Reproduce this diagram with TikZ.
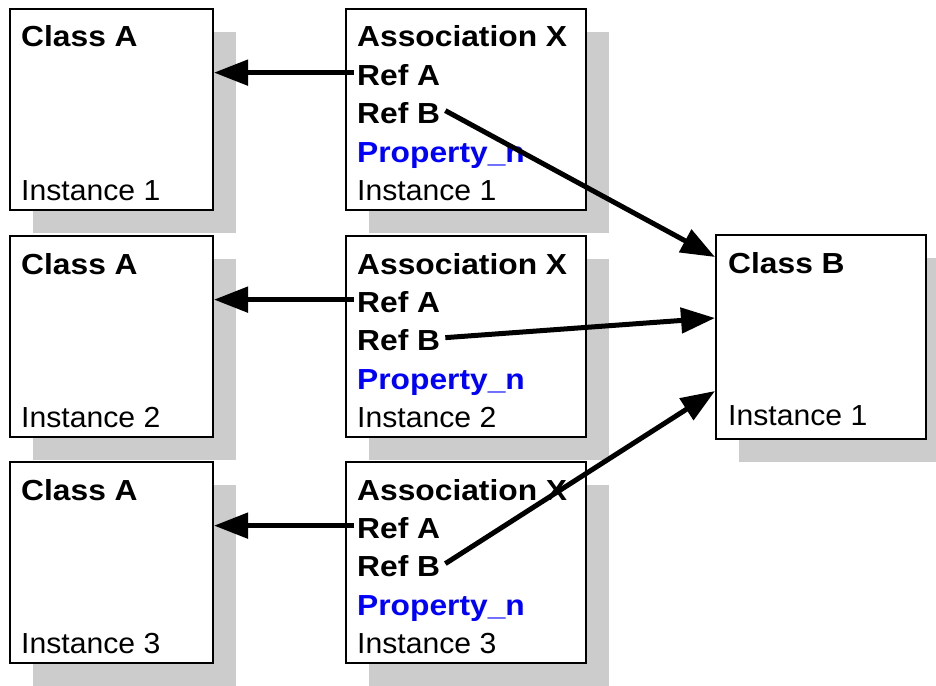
\documentclass[tikz,border=0pt]{standalone}
\usepackage{fontspec}
\setmainfont{Liberation Sans}[FakeStretch=1.04]
\newfontfamily\boldlbl{Liberation Sans}[FakeStretch=1.095, UprightFont=*-Bold]
\usetikzlibrary{arrows.meta,calc}
\definecolor{shadowgray}{HTML}{CCCCCC}
\definecolor{propblue}{HTML}{0000FF}
\tikzset{
  box/.style={draw=black, line width=2pt, fill=white, rectangle, inner sep=0pt, anchor=north west},
  shadowbox/.style={fill=shadowgray, draw=none, rectangle, inner sep=0pt, anchor=north west},
  lbl/.style={inner sep=0pt, anchor=base west, font=\fontsize{29}{34}\selectfont},
  bl/.style={lbl, font=\fontsize{29}{34}\selectfont\boldlbl},
  prop/.style={bl, text=propblue},
  refarrow/.style={line width=5pt, -{Triangle[length=34pt,width=25pt]}},
}
\begin{document}
\begin{tikzpicture}[x=1pt,y=-1pt]
\useasboundingbox (0,0) rectangle (936,685);
% shadows
\foreach \t/\n in {8/1,235/2,461/3}{
  \node[shadowbox, minimum width=203pt, minimum height=201pt] (shA\n) at (33,\t+24) {};
  \node[shadowbox, minimum width=240pt, minimum height=201pt] (shX\n) at (369,\t+24) {};
}
\node[shadowbox, minimum width=210pt, minimum height=204pt] (shB) at (739,258) {};
% boxes
\foreach \t/\n in {8/1,235/2,461/3}{
  \node[box, minimum width=203pt, minimum height=201pt] (classA\n) at (9,\t) {};
  \node[box, minimum width=240pt, minimum height=201pt] (assoc\n) at (345,\t) {};
  \node[bl] (titleA\n) at (21,\t+39) {Class A};
  \node[lbl] (instA\n) at (21,\t+192) {Instance \n};
  \node[bl] (titleX\n) at (357,\t+39) {Association X};
  \node[bl] (refA\n) at (357,\t+77) {Ref A};
  \node[bl] (refB\n) at (357,\t+115) {Ref B};
  \node[prop] (prop\n) at (357,\t+154) {Property\_n};
  \node[lbl] (instX\n) at (357,\t+192) {Instance \n};
}
\node[box, minimum width=210pt, minimum height=204pt] (classB) at (715,234) {};
\node[bl] (titleB) at (728,273) {Class B};
\node[lbl] (instB) at (728,425) {Instance 1};
% target points on Class B
\coordinate (tB1) at ($(classB.north west)+(0,23)$);
\coordinate (tB2) at ($(classB.north west)+(0,84)$);
\coordinate (tB3) at ($(classB.north west)+(0,157)$);
% arrows
\foreach \n in {1,2,3}{
  \draw[refarrow] ([xshift=-3pt,yshift=2pt]refA\n.west) -- ([yshift=2pt]refA\n.west -| classA\n.east);
  \draw[refarrow] ([xshift=5pt,yshift=2pt]refB\n.east) -- (tB\n);
}
\end{tikzpicture}
\end{document}
